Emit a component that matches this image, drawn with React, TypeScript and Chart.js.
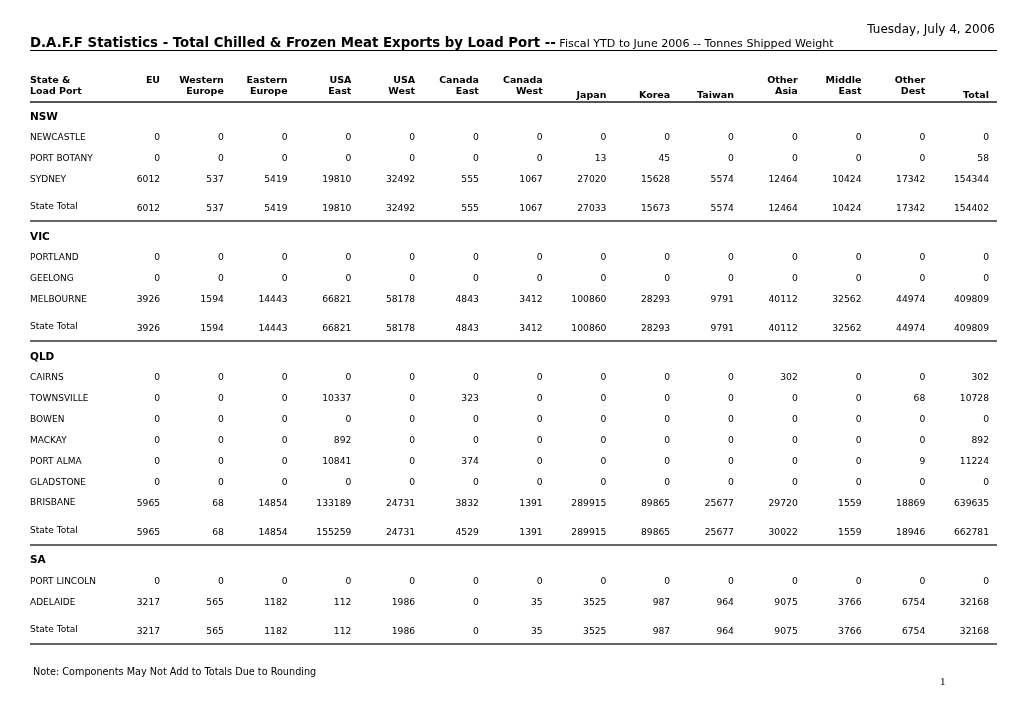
import React, { useEffect, useRef } from "react";
import { Chart, registerables } from "chart.js";

Chart.register(...registerables);

// ---------- data ----------
const headerLine1 = ["EU", "Western", "Eastern", "USA", "USA", "Canada", "Canada", "", "", "", "Other", "Middle", "Other", ""];
const headerLine2 = ["", "Europe", "Europe", "East", "West", "East", "West", "", "", "", "Asia", "East", "Dest", ""];
const headerLine3 = ["", "", "", "", "", "", "", "Japan", "Korea", "Taiwan", "", "", "", "Total"];

const states = ["NSW", "VIC", "QLD", "SA"];

const nswPorts = ["NEWCASTLE", "PORT BOTANY", "SYDNEY"];
const newcastle = [0, 0, 0, 0, 0, 0, 0, 0, 0, 0, 0, 0, 0, 0];
const portBotany = [0, 0, 0, 0, 0, 0, 0, 13, 45, 0, 0, 0, 0, 58];
const sydney = [6012, 537, 5419, 19810, 32492, 555, 1067, 27020, 15628, 5574, 12464, 10424, 17342, 154344];
const nswTotal = [6012, 537, 5419, 19810, 32492, 555, 1067, 27033, 15673, 5574, 12464, 10424, 17342, 154402];

const vicPorts = ["PORTLAND", "GEELONG", "MELBOURNE"];
const portland = [0, 0, 0, 0, 0, 0, 0, 0, 0, 0, 0, 0, 0, 0];
const geelong = [0, 0, 0, 0, 0, 0, 0, 0, 0, 0, 0, 0, 0, 0];
const melbourne = [3926, 1594, 14443, 66821, 58178, 4843, 3412, 100860, 28293, 9791, 40112, 32562, 44974, 409809];
const vicTotal = [3926, 1594, 14443, 66821, 58178, 4843, 3412, 100860, 28293, 9791, 40112, 32562, 44974, 409809];

const qldPorts = ["CAIRNS", "TOWNSVILLE", "BOWEN", "MACKAY", "PORT ALMA", "GLADSTONE", "BRISBANE"];
const cairns = [0, 0, 0, 0, 0, 0, 0, 0, 0, 0, 302, 0, 0, 302];
const townsville = [0, 0, 0, 10337, 0, 323, 0, 0, 0, 0, 0, 0, 68, 10728];
const bowen = [0, 0, 0, 0, 0, 0, 0, 0, 0, 0, 0, 0, 0, 0];
const mackay = [0, 0, 0, 892, 0, 0, 0, 0, 0, 0, 0, 0, 0, 892];
const portAlma = [0, 0, 0, 10841, 0, 374, 0, 0, 0, 0, 0, 0, 9, 11224];
const gladstone = [0, 0, 0, 0, 0, 0, 0, 0, 0, 0, 0, 0, 0, 0];
const brisbane = [5965, 68, 14854, 133189, 24731, 3832, 1391, 289915, 89865, 25677, 29720, 1559, 18869, 639635];
const qldTotal = [5965, 68, 14854, 155259, 24731, 4529, 1391, 289915, 89865, 25677, 30022, 1559, 18946, 662781];

const saPorts = ["PORT LINCOLN", "ADELAIDE"];
const portLincoln = [0, 0, 0, 0, 0, 0, 0, 0, 0, 0, 0, 0, 0, 0];
const adelaide = [3217, 565, 1182, 112, 1986, 0, 35, 3525, 987, 964, 9075, 3766, 6754, 32168];
const saTotal = [3217, 565, 1182, 112, 1986, 0, 35, 3525, 987, 964, 9075, 3766, 6754, 32168];

const stateGroups = [
  { name: states[0], ports: nswPorts, rows: [newcastle, portBotany, sydney], total: nswTotal },
  { name: states[1], ports: vicPorts, rows: [portland, geelong, melbourne], total: vicTotal },
  { name: states[2], ports: qldPorts, rows: [cairns, townsville, bowen, mackay, portAlma, gladstone, brisbane], total: qldTotal },
  { name: states[3], ports: saPorts, rows: [portLincoln, adelaide], total: saTotal },
];

// ---------- layout (row units) ----------
const GAP_DATA = 1;
const GAP_TOTAL = 1.33;
const GAP_HEADER = 1.43;
const TOTAL_LINE = 0.66;
const Y_MIN = -5.61;
const Y_MAX = 28.92;
const X_MIN = -1.04;
const X_MAX = 14.125;

const FONT = "'DejaVu Sans', Verdana, sans-serif";

type Row = { kind: "state" | "port" | "total"; label: string; pos: number; values?: number[] };

function buildRows(): Row[] {
  const rows: Row[] = [];
  let pos = 0;
  stateGroups.forEach((g, gi) => {
    if (gi > 0) pos += GAP_HEADER;
    rows.push({ kind: "state", label: g.name, pos });
    g.ports.forEach((p, i) => {
      pos += GAP_DATA;
      rows.push({ kind: "port", label: p, pos, values: g.rows[i] });
    });
    pos += GAP_TOTAL;
    rows.push({ kind: "total", label: "State Total", pos, values: g.total });
  });
  return rows;
}

const tablePlugin = {
  id: "tableText",
  afterDatasetsDraw(chart: any) {
    const ctx = chart.ctx;
    const xs = chart.scales.x;
    const ys = chart.scales.y;
    const left = chart.chartArea.left;
    const right = chart.chartArea.right;
    const rows: Row[] = chart.options.plugins.tableText.rows;
    ctx.save();
    ctx.textBaseline = "middle";
    ctx.fillStyle = "#000";

    // header
    ctx.font = `bold 9.5px ${FONT}`;
    ctx.textAlign = "left";
    ctx.fillText("State &", left, ys.getPixelForValue(-1.77));
    ctx.fillText("Load Port", left, ys.getPixelForValue(-1.2));
    ctx.textAlign = "right";
    [headerLine1, headerLine2, headerLine3].forEach((line, li) => {
      const yv = [-1.77, -1.2, -1.05][li];
      line.forEach((t, i) => {
        if (t) ctx.fillText(t, xs.getPixelForValue(i + 1), ys.getPixelForValue(yv));
      });
    });
    // header underline
    ctx.strokeStyle = "#555";
    ctx.lineWidth = 2;
    ctx.beginPath();
    const hy = Math.round(ys.getPixelForValue(-0.72));
    ctx.moveTo(left, hy);
    ctx.lineTo(right, hy);
    ctx.stroke();

    // row labels
    rows.forEach((r) => {
      const y = ys.getPixelForValue(r.pos);
      ctx.textAlign = "left";
      if (r.kind === "state") {
        ctx.font = `bold 10.5px ${FONT}`;
        ctx.fillText(r.label, left, y);
      } else if (r.kind === "port") {
        ctx.font = `9px ${FONT}`;
        ctx.fillText(r.label, left, y);
      } else {
        ctx.font = `9px ${FONT}`;
        ctx.fillText(r.label, left, y - 0.5);
        ctx.strokeStyle = "#333";
        ctx.lineWidth = 1.5;
        const ly = Math.round(ys.getPixelForValue(r.pos + TOTAL_LINE));
        ctx.beginPath();
        ctx.moveTo(left, ly);
        ctx.lineTo(right, ly);
        ctx.stroke();
      }
    });

    // cell values from dataset elements
    ctx.font = `9.2px ${FONT}`;
    ctx.textAlign = "right";
    const meta = chart.getDatasetMeta(0);
    meta.data.forEach((el: any, i: number) => {
      const raw = chart.data.datasets[0].data[i];
      ctx.fillText(String(raw.v), el.x, el.y + (raw.t ? 1.5 : 0));
    });
    ctx.restore();
  },
};

export default function App() {
  const ref = useRef<HTMLCanvasElement | null>(null);
  useEffect(() => {
    const rows = buildRows();
    const cells: any[] = [];
    rows.forEach((r) => {
      if (!r.values) return;
      r.values.forEach((v, ci) => cells.push({ x: ci + 1, y: r.pos, v, t: r.kind === "total" }));
    });
    const chart = new Chart(ref.current as HTMLCanvasElement, {
      type: "scatter",
      data: { datasets: [{ data: cells, pointRadius: 0, pointHoverRadius: 0 }] },
      options: {
        animation: false,
        responsive: false,
        events: [],
        layout: { padding: { left: 30, right: 23, top: 0, bottom: 0 } },
        scales: {
          x: { type: "linear", min: X_MIN, max: X_MAX, display: false },
          y: { type: "linear", min: Y_MIN, max: Y_MAX, reverse: true, display: false },
        },
        plugins: {
          legend: { display: false },
          tooltip: { enabled: false },
          title: { display: false },
          tableText: { rows },
        } as any,
      },
      plugins: [tablePlugin],
    });
    return () => chart.destroy();
  }, []);

  return (
    <div style={{ position: "absolute", left: 0, top: 0, width: 1020, height: 720, background: "#fff", fontFamily: FONT, color: "#000" }}>
      <canvas ref={ref} width={1020} height={720} style={{ position: "absolute", left: 0, top: 0, width: 1020, height: 720 }} />
      <div style={{ position: "absolute", right: 25, top: 22, fontSize: 12, whiteSpace: "nowrap" }}>Tuesday, July 4, 2006</div>
      <div style={{ position: "absolute", left: 30, top: 34, width: 967, height: 16, borderBottom: "1px solid #000", whiteSpace: "nowrap", lineHeight: "16px" }}>
        <span style={{ fontWeight: "bold", fontSize: 13.3 }}>D.A.F.F Statistics - Total Chilled &amp; Frozen Meat Exports by Load Port --</span>
        <span style={{ fontSize: 11.1 }}> Fiscal YTD to June 2006 -- Tonnes Shipped Weight</span>
      </div>
      <div style={{ position: "absolute", left: 33, top: 666, fontSize: 9.7, whiteSpace: "nowrap" }}>Note: Components May Not Add to Totals Due to Rounding</div>
      <div style={{ position: "absolute", left: 940, top: 675, fontSize: 11, fontFamily: "'Liberation Serif', serif" }}>1</div>
    </div>
  );
}
